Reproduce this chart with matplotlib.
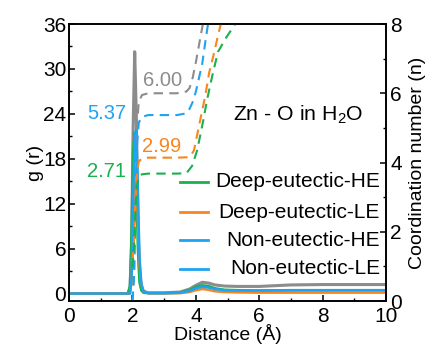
import numpy as np
import matplotlib
matplotlib.use("Agg")
import matplotlib.pyplot as plt
from matplotlib.ticker import MultipleLocator

plt.rcParams['font.family'] = ['Liberation Sans', 'DejaVu Sans']
plt.rcParams['mathtext.fontset'] = 'custom'
plt.rcParams['mathtext.rm'] = 'Liberation Sans'

# series names, colours
names = ["Deep-eutectic-HE", "Deep-eutectic-LE", "Non-eutectic-HE", "Non-eutectic-LE"]
c_green = "#1bb04e"
c_orange = "#f7861f"
c_blue = "#1ea3f2"
c_gray = "#8c8c8c"

# radial distribution g(r)
r_g = [0, 1.85, 1.92, 1.97, 2.02, 2.07, 2.12, 2.17, 2.22, 2.28, 2.35, 2.5, 3.0, 3.5,
       3.8, 4.0, 4.2, 4.4, 4.6, 4.9, 5.3, 6.0, 7.0, 8.0, 9.0, 10.0]
g_deep_he = [0, 0, 1.0, 8, 19, 21.5, 15, 6, 1.5, 0.4, 0.1, 0.05, 0.05, 0.1,
             0.45, 0.9, 1.1, 1.0, 0.7, 0.5, 0.45, 0.4, 0.42, 0.42, 0.42, 0.42]
g_deep_le = [0, 0, 0, 1.5, 10, 17, 17.5, 10, 4, 1.2, 0.3, 0.05, 0.05, 0.05,
             0.2, 0.45, 0.6, 0.5, 0.3, 0.2, 0.15, 0.12, 0.12, 0.12, 0.12, 0.12]
g_non_he = [0, 0, 0, 2, 12, 21, 22, 14, 5, 1.3, 0.3, 0.05, 0.05, 0.1,
            0.35, 0.7, 0.9, 0.8, 0.6, 0.45, 0.4, 0.4, 0.45, 0.45, 0.45, 0.45]
g_non_le = [0, 0, 0.5, 6, 22, 32.3, 24, 10, 3, 0.8, 0.3, 0.1, 0.1, 0.2,
            0.6, 1.1, 1.5, 1.4, 1.15, 1.0, 0.95, 0.95, 1.15, 1.2, 1.2, 1.2]

# running coordination number n(r)
r_n_deep_he = [2.0, 2.05, 2.1, 2.15, 2.2, 2.3, 2.5, 3.4, 3.7, 3.88, 4.04, 4.23, 4.35, 4.54, 4.7, 4.95, 5.24, 5.5]
n_deep_he = [0, 0.6, 1.8, 2.4, 2.62, 2.69, 2.71, 2.71, 2.72, 2.93, 3.38, 4.23, 4.83, 5.63, 6.23, 6.63, 7.03, 7.4]
r_n_deep_le = [2.0, 2.05, 2.1, 2.15, 2.2, 2.3, 2.5, 3.4, 3.7, 3.82, 3.94, 4.13, 4.29, 4.42, 4.57, 4.7, 4.8, 4.95]
n_deep_le = [0, 0.6, 1.9, 2.6, 2.88, 2.97, 2.99, 2.99, 3.0, 3.02, 3.2, 4.05, 4.75, 5.45, 6.0, 6.53, 6.9, 7.3]
r_n_non_he = [2.0, 2.05, 2.1, 2.15, 2.2, 2.3, 2.5, 3.4, 3.7, 3.8, 3.9, 4.0, 4.1, 4.2, 4.3, 4.4]
n_non_he = [0, 0.7, 2.9, 4.6, 5.15, 5.32, 5.37, 5.37, 5.42, 5.55, 5.75, 6.05, 6.45, 6.85, 7.5, 8.1]
r_n_non_le = [2.0, 2.05, 2.1, 2.15, 2.2, 2.3, 2.5, 3.4, 3.7, 3.8, 3.9, 4.0, 4.1, 4.2, 4.3, 4.4]
n_non_le = [0, 0.8, 3.2, 5.2, 5.75, 5.95, 6.0, 6.0, 6.05, 6.15, 6.45, 6.9, 7.4, 7.9, 8.3, 8.6]

# first-shell values printed next to the curves
cn_labels = ["2.71", "2.99", "5.37", "6.00"]
# vertical offsets used to separate the n(r) curves
n_shift = [0.97, 1.15, 0.0, 0.0]

fig = plt.figure(figsize=(4.29, 3.48), dpi=100)
ax = fig.add_axes([0.161, 0.135, 0.739, 0.796])
ax2 = ax.twinx()

g_sets = [(g_non_le, c_gray, 2.2), (g_deep_he, c_green, 1.8),
          (g_deep_le, c_orange, 1.8), (g_non_he, c_blue, 1.8)]
for g, c, w in g_sets:
    ax.plot(r_g, g, color=c, lw=w, solid_joinstyle='round')

n_sets = [(r_n_non_le, n_non_le, c_gray, n_shift[3]),
          (r_n_non_he, n_non_he, c_blue, n_shift[2]),
          (r_n_deep_le, n_deep_le, c_orange, n_shift[1]),
          (r_n_deep_he, n_deep_he, c_green, n_shift[0])]
for rr, nn, c, s in n_sets:
    ax2.plot(rr, np.array(nn) + s, color=c, lw=1.5, ls=(0, (4.5, 3)))

ax.set_xlim(0, 10)
ax.set_ylim(-1, 36)
ax2.set_ylim(0, 8)

ax.xaxis.set_major_locator(MultipleLocator(2))
ax.xaxis.set_minor_locator(MultipleLocator(1))
ax.yaxis.set_major_locator(MultipleLocator(6))
ax.yaxis.set_minor_locator(MultipleLocator(3))
ax2.yaxis.set_major_locator(MultipleLocator(2))
ax2.yaxis.set_minor_locator(MultipleLocator(1))

for a in (ax, ax2):
    a.tick_params(which='major', direction='in', length=4, width=1.1, labelsize=15, pad=2)
    a.tick_params(which='minor', direction='in', length=2.5, width=1.0)
    for sp in a.spines.values():
        sp.set_linewidth(1.2)
ax.tick_params(top=False, right=False)
ax.tick_params(which='minor', top=False, right=False)
ax.tick_params(axis='x', which='major', pad=4)
ax2.tick_params(which='major', pad=3)

ax.set_xlabel("Distance (Å)", fontsize=14, labelpad=-1)
ax.set_ylabel("g (r)", fontsize=14, labelpad=-1)
ax2.set_ylabel("Coordination number (n)", fontsize=14, labelpad=5)

# values of the first-shell plateaus
ax.text(2.33, 28.5, cn_labels[3], color=c_gray, fontsize=14.5, ha='left', va='center')
ax.text(1.80, 24.1, cn_labels[2], color=c_blue, fontsize=14.5, ha='right', va='center')
ax.text(2.30, 19.7, cn_labels[1], color=c_orange, fontsize=14.5, ha='left', va='center')
ax.text(1.80, 16.3, cn_labels[0], color=c_green, fontsize=14.5, ha='right', va='center')

ax.text(7.22, 23.9, "Zn - O in H$_2$O", fontsize=15.3, ha='center', va='center')

# legend with right-aligned labels
leg_colors = [c_green, c_orange, c_blue, c_blue]
leg_y = [0.430, 0.321, 0.220, 0.116]
for name, c, y in zip(names, leg_colors, leg_y):
    ax2.plot([0.350, 0.438], [y, y], color=c, lw=2, transform=ax2.transAxes, clip_on=False)
    ax2.text(0.981, y, name, fontsize=15, ha='right', va='center', transform=ax2.transAxes)

fig.savefig("out.png", dpi=100)
